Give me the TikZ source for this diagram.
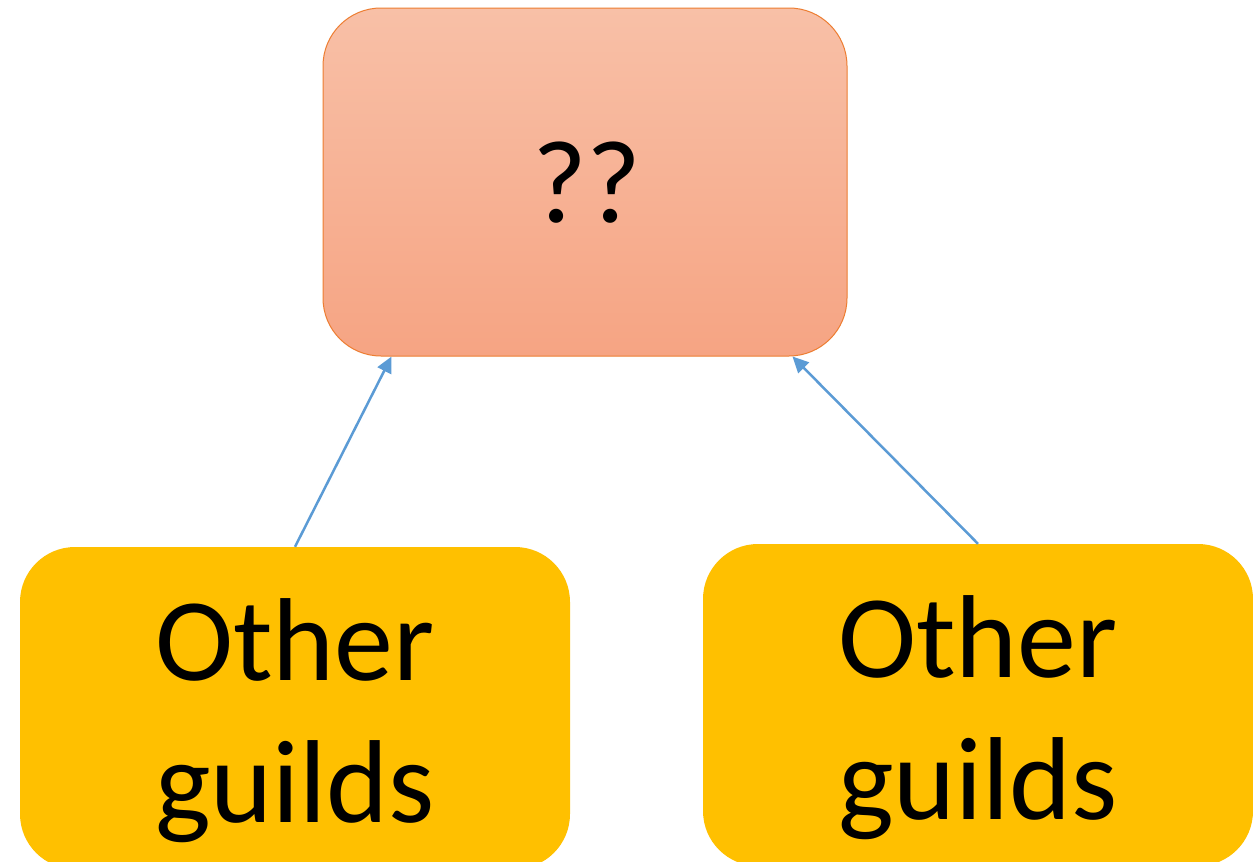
\documentclass[tikz,border=0pt]{standalone}
\usepackage{fontspec}
\setmainfont{Carlito}
\usetikzlibrary{arrows.meta,calc}
\definecolor{topA}{HTML}{F8C0A7}
\definecolor{topB}{HTML}{F6A483}
\definecolor{topline}{HTML}{ED7D31}
\definecolor{gold}{HTML}{FFC000}
\definecolor{arrowblue}{HTML}{5B9BD5}
\tikzset{
  topbox/.style={rectangle, rounded corners=58pt, draw=topline, line width=1pt,
    top color=topA, bottom color=topB, minimum width=524pt, minimum height=348pt,
    inner sep=0pt},
  guildbox/.style={rectangle, rounded corners=55pt, fill=gold, draw=none,
    minimum width=550pt, minimum height=322pt, inner sep=0pt},
  bigtext/.style={font=\fontsize{118}{142}\selectfont, inner sep=0pt, anchor=base},
  link/.style={draw=arrowblue, line width=2.5pt, -{Triangle[length=16pt,width=15pt]}}
}
\begin{document}
\begin{tikzpicture}[x=1pt,y=-1pt]
\clip (0,0) rectangle (1253,862);
\fill[white] (0,0) rectangle (1253,862);
% boxes
\node[topbox] (top) at (585,182) {};
\node[guildbox] (left) at (295,708) {};
\node[guildbox] (right) at (978,705) {};
% texts
\node[bigtext] (qq) at (587,222) {??};
\node[bigtext] (l1) at (295,680) {Other};
\node[bigtext] (l2) at (295,822) {guilds};
\node[bigtext] (r1) at (978,677) {Other};
\node[bigtext] (r2) at (978,819) {guilds};
% connectors
\coordinate (ta) at ($(top.south west)+(69pt,0)$);
\coordinate (tb) at ($(top.south east)+(-55pt,0)$);
\draw[link] (left.north) -- (ta);
\draw[link] (right.north) -- (tb);
\end{tikzpicture}
\end{document}
